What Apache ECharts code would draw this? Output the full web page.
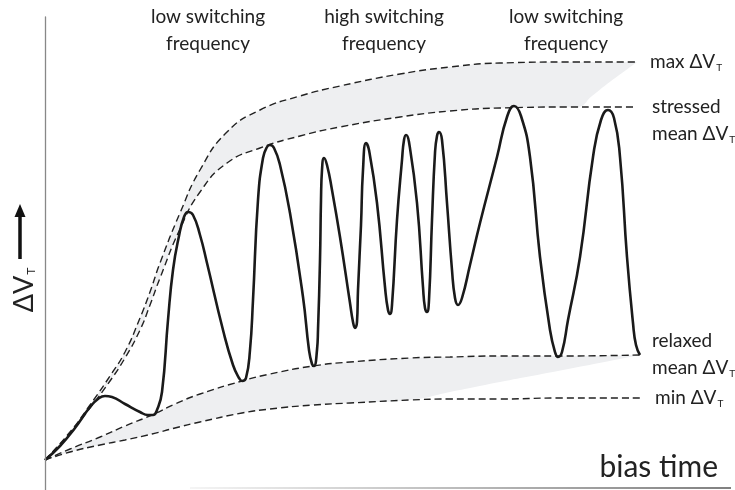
<!DOCTYPE html>
<html>
<head>
<meta charset="utf-8">
<script src="https://cdn.jsdelivr.net/npm/echarts@6/dist/echarts.min.js"></script>
<style>
  html, body { margin: 0; padding: 0; background: #fff; }
  #chart { width: 735px; height: 490px; }
</style>
</head>
<body>
<div id="chart"></div>
<script>
// Envelope of the stressed phases: bias time and ΔV_T (arbitrary units)
const upperX     = [0, 25, 45, 65, 80, 95, 105, 115, 135, 155, 182, 215, 255, 295, 355, 405, 455, 532, 547, 562, 577, 592];
const maxDV      = [0, 28, 55, 84, 108, 142, 168, 197, 247, 290, 328, 350, 364, 374, 386, 393, 397, 398, 398, 398, 398, 398];
const stressedDV = [0, 27, 52, 79, 102, 130, 155, 182, 231, 268, 297, 312, 324, 333, 343, 349, 352, 353, 353, 353, 353, 353];
// lower edge of the stressed shading (closes diagonally up to the end of the max line)
const upperShadeFloor = [0, 27, 52, 79, 102, 130, 155, 182, 231, 268, 297, 312, 324, 333, 343, 349, 352, 353, 364, 376, 387, 398];

// Envelope of the relaxed phases
const lowerX     = [0, 25, 55, 80, 107, 130, 155, 197, 225, 268, 305, 365, 405, 455, 513, 595];
const relaxedDV  = [0, 11, 23, 34, 45, 56, 66, 79, 86, 94, 98, 102, 103, 104, 104, 105];
const minDV      = [0, 8, 15, 20, 26, 32, 38, 47, 51, 55, 57, 60, 61, 61, 62, 62];
// lower edge of the relaxed shading (closes diagonally towards the end)
const lowerShadeFloor = [0, 8, 15, 20, 26, 32, 38, 47, 51, 55, 57, 60, 68, 78, 89, 105];

// ΔV_T trace under alternating stress / recovery
const traceX = [0, 15, 30, 45, 53, 60, 67, 80, 95, 103, 108, 112, 117, 123, 128, 134, 139, 143, 148,
                155, 162, 178, 188, 194, 197, 201, 205, 208, 213, 218, 222, 225, 229, 235, 245, 258,
                264, 267, 269, 272, 273, 275, 276, 277, 279, 282, 287, 295, 305, 308, 310, 312, 313,
                316, 318, 321, 324, 332, 340, 343, 345, 347, 352, 357, 359, 361, 364, 372, 378, 380,
                382, 384, 387, 390, 392, 394, 397, 402, 407, 410, 413, 417, 425, 435, 452, 462, 469,
                476, 485, 495, 505, 510, 513, 517, 523, 535, 548, 556, 563, 569, 575, 582, 588, 591, 595];
const traceY = [0, 14, 32, 53, 61, 64, 63, 56, 48, 45, 45, 50, 68, 140, 190, 224, 243, 248, 245,
                225, 197, 130, 95, 82, 79, 82, 110, 160, 260, 302, 313, 315, 312, 295, 247, 163,
                110, 96, 94, 110, 130, 200, 260, 290, 302, 295, 270, 223, 157, 138, 132, 138, 170,
                235, 290, 317, 310, 257, 173, 150, 146, 155, 240, 300, 320, 325, 318, 257, 173, 152,
                148, 160, 240, 307, 324, 328, 320, 257, 190, 162, 155, 162, 195, 237, 303, 343, 354,
                344, 303, 203, 130, 108, 103, 108, 140, 203, 303, 340, 350, 342, 303, 203, 137, 115, 105];

// Texts
const phaseLabels = [
  { lines: ['low switching', 'frequency'], x: 208 },
  { lines: ['high switching', 'frequency'], x: 384 },
  { lines: ['low switching', 'frequency'], x: 566 }
];
const xAxisTitle = 'bias time';

const zip = (xs, ys) => xs.map((x, i) => [x, ys[i]]);

const SHADE = '#eeeff1';
const DASH = { color: '#222', width: 1.4, type: [7, 4] };
const hidden = { opacity: 0 };

const chart = echarts.init(document.getElementById('chart'), null, { renderer: 'canvas' });

const sub = { s: { fontSize: 10, padding: [11, 0, 0, 1], fontFamily: 'Lato' } };
function rightLabel(text, x, y) {
  return {
    type: 'text', x: x, y: y, z: 10,
    style: { text: text, font: '19px Lato', fill: '#222', verticalAlign: 'middle', rich: sub }
  };
}

const graphics = [];
phaseLabels.forEach(p => {
  p.lines.forEach((t, k) => {
    graphics.push({
      type: 'text', x: p.x, y: 17 + k * 27, z: 10,
      style: { text: t, font: '19px Lato', fill: '#222', align: 'center', verticalAlign: 'middle' }
    });
  });
});
graphics.push(
  rightLabel('max ΔV{s|T}', 650, 62),
  rightLabel('stressed', 652, 107),
  rightLabel('mean ΔV{s|T}', 652, 134),
  rightLabel('relaxed', 652, 341),
  rightLabel('mean ΔV{s|T}', 652, 368),
  rightLabel('min ΔV{s|T}', 655, 398),
  {
    type: 'text', x: 718, y: 467, z: 10,
    style: { text: xAxisTitle, font: '30px Lato', fill: '#222', align: 'right', verticalAlign: 'middle' }
  },
  {
    type: 'text', x: 24, y: 290, rotation: Math.PI / 2, z: 10,
    style: {
      text: 'ΔV{t|T}', font: '27px Lato', fill: '#222', align: 'center', verticalAlign: 'middle',
      rich: { t: { fontSize: 12, padding: [15, 0, 0, 1], fontFamily: 'Lato' } }
    }
  },
  {
    type: 'line', z: 10, shape: { x1: 20, y1: 259, x2: 20, y2: 214 },
    style: { stroke: '#111', lineWidth: 3.5 }
  },
  {
    type: 'polygon', z: 10, shape: { points: [[14.5, 217], [25.5, 217], [20, 204]] },
    style: { fill: '#111' }
  },
  {
    type: 'line', z: 10, shape: { x1: 190, y1: 488, x2: 731, y2: 488 },
    style: {
      lineWidth: 1.5,
      stroke: new echarts.graphic.LinearGradient(0, 0, 1, 0, [
        { offset: 0, color: '#f2f2f2' }, { offset: 1, color: '#555' }
      ])
    }
  }
);

// shaded bands: grey area under the upper edge, cleared below the lower edge
function shade(xs, ys, color) {
  return {
    type: 'line', data: zip(xs, ys), smooth: true, symbol: 'none', silent: true,
    lineStyle: hidden, areaStyle: { color: color, opacity: 1, origin: 'start' }
  };
}
function dashed(name, xs, ys) {
  return { type: 'line', name: name, data: zip(xs, ys), smooth: true, symbol: 'none', lineStyle: DASH, silent: true };
}

chart.setOption({
  animation: false,
  backgroundColor: '#fff',
  grid: { left: 45, right: 0, top: 17, bottom: 0 },
  xAxis: { type: 'value', min: 0, max: 690, show: false },
  yAxis: {
    type: 'value', min: -30, max: 443, z: 5,
    axisLine: { show: true, lineStyle: { color: '#888', width: 1.3 } },
    axisTick: { show: false }, axisLabel: { show: false }, splitLine: { show: false }
  },
  series: [
    shade(upperX, maxDV, SHADE),
    shade(upperX, upperShadeFloor, '#fff'),
    shade(lowerX, relaxedDV, SHADE),
    shade(lowerX, lowerShadeFloor, '#fff'),
    dashed('max ΔV_T', upperX, maxDV),
    dashed('stressed mean ΔV_T', upperX, stressedDV),
    dashed('relaxed mean ΔV_T', lowerX, relaxedDV),
    dashed('min ΔV_T', lowerX, minDV),
    { type: 'line', name: 'ΔV_T', data: zip(traceX, traceY), smooth: true, symbol: 'none', lineStyle: { color: '#1a1a1a', width: 2.6 } }
  ],
  graphic: graphics
});
</script>
</body>
</html>
